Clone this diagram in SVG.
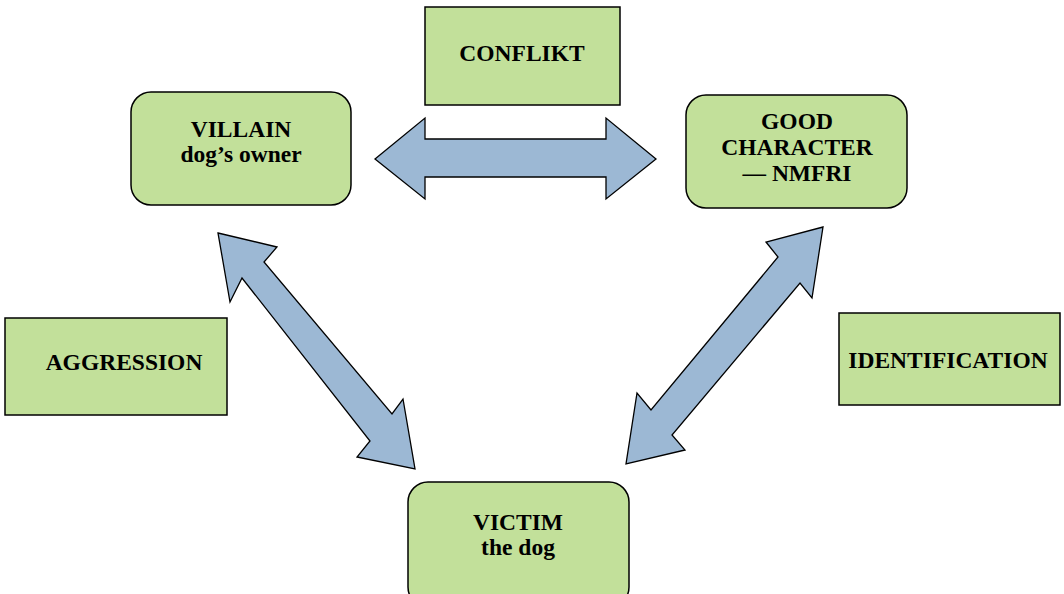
<svg xmlns="http://www.w3.org/2000/svg" width="1064" height="594" viewBox="0 0 1064 594">
<style>
.box{fill:#c2e09a;stroke:#000;stroke-width:1.5}
.arr{fill:#9cb8d4;stroke:#000;stroke-width:1.3;stroke-linejoin:miter}
.t{font-family:'Liberation Serif','Times New Roman',serif;font-weight:700;font-size:23.5px;fill:#000;text-anchor:middle}
</style>
<rect width="1064" height="594" fill="#fff"/>
<g id="connectors">
<polygon class="arr" points="375,159 425,118 425,139 606,139 606,118 656,159 606,199 606,177 425,177 425,199"/>
<polygon class="arr" points="218,233 277,247 264,262 392,414 403,399 415,469 357,457 370,441 242,278 230,302"/>
<polygon class="arr" points="823,227 812,298 800,283 672,435 685,450 626,464 637,393 651,410 778,257 766,242"/>
</g>
<g id="conflikt"><rect class="box" x="425" y="7" width="195" height="98"/><text class="t" x="522" y="61">CONFLIKT</text></g>
<g id="villain"><rect class="box" x="131" y="92" width="220" height="113" rx="20"/><text class="t" x="241" y="137">VILLAIN</text><text class="t" x="241" y="162">dog’s owner</text></g>
<g id="good"><rect class="box" x="686" y="95" width="221" height="113" rx="20"/><text class="t" x="797" y="129">GOOD</text><text class="t" x="797" y="155">CHARACTER</text><text class="t" x="797" y="181">— NMFRI</text></g>
<g id="aggression"><rect class="box" x="5" y="318" width="222" height="97"/><text class="t" x="124" y="370">AGGRESSION</text></g>
<g id="identification"><rect class="box" x="839" y="313" width="221" height="92"/><text class="t" x="948" y="368">IDENTIFICATION</text></g>
<g id="victim"><rect class="box" x="408" y="482" width="221" height="125" rx="20"/><text class="t" x="518" y="530">VICTIM</text><text class="t" x="518" y="555">the dog</text></g>
</svg>
